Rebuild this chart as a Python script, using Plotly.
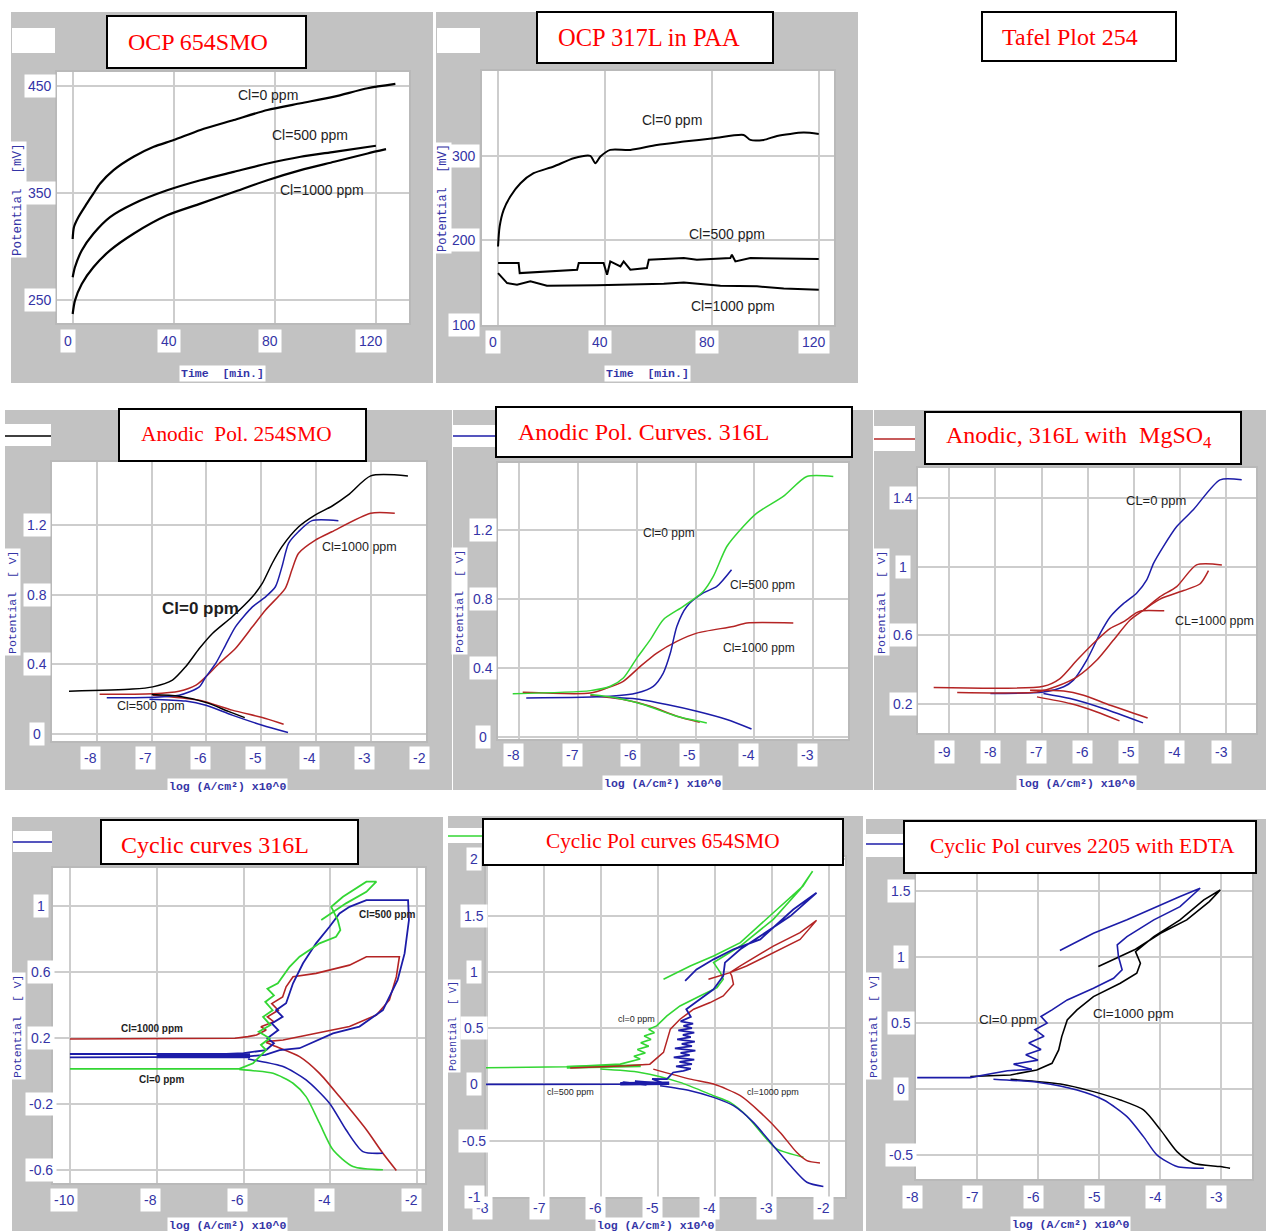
import plotly.graph_objects as go

W, H = 1266, 1231

# ======================= DATA =======================
# Panel 1 - OCP 654SMO (time [min], potential [mV])
p1_t_cl0 = [0, 0.5, 2.3, 5.6, 8.2, 10.9, 16.2, 24.1, 32.1, 40, 50.6, 63.8, 77.1, 90.3, 103.6, 116.8, 127.8]
p1_E_cl0 = [307, 318, 327.5, 340, 349.4, 358.8, 371.3, 383.8, 393.1, 399.4, 408.8, 418.1, 427.5, 433.8, 440, 447.8, 451.9]
p1_t_cl500 = [0, 0.9, 3.6, 8.2, 14.8, 24.1, 37.4, 50.6, 63.8, 77.1, 90.3, 103.6, 120.1]
p1_E_cl500 = [271.3, 280.6, 296.3, 311.9, 327.5, 340, 352.5, 361.9, 369.7, 377.5, 383.8, 388.4, 394.1]
p1_t_cl1000 = [0, 0.9, 3.6, 8.2, 14.8, 24.1, 37.4, 50.6, 63.8, 77.1, 90.3, 103.6, 116.8, 124.1]
p1_E_cl1000 = [236.9, 249.4, 265, 280.6, 296.3, 311.9, 329.1, 340, 350.9, 361.9, 371.3, 379.1, 386.9, 390.9]

# Panel 2 - OCP 317L in PAA
p2_t_cl0 = [0, 0.6, 2.1, 4.6, 8.4, 13.3, 20.8, 28.3, 34.5, 36.4, 38.3, 42, 49.5, 59.4, 69.5, 80.7, 91.9, 94.4, 99.4, 104.4, 114.3, 120]
p2_E_cl0 = [192.9, 216.5, 236.2, 252, 267.7, 279.5, 287.4, 297.2, 300, 291.3, 299.2, 307.1, 307.1, 313, 316.9, 320.9, 324.8, 318.9, 318.9, 323.6, 327.6, 326]
p2_t_cl500 = [0, 7.7, 8.1, 29.6, 30.2, 39.5, 40.8, 42, 45.8, 47, 49.5, 55.7, 56.4, 69.5, 74.4, 86.9, 87.5, 88.8, 94.4, 120]
p2_E_cl500 = [173.2, 173.2, 161.4, 165.4, 173.2, 173.2, 159.4, 175.2, 169.3, 175.2, 165.4, 167.3, 177.2, 179.1, 177.2, 179.1, 183.1, 175.2, 179.1, 178]
p2_t_cl1000 = [0, 3.4, 7.1, 12.1, 18.3, 37, 62, 69.5, 83.2, 96.9, 106.9, 120]
p2_E_cl1000 = [161.4, 149.6, 147.6, 151.6, 146.5, 146.9, 148.8, 150.4, 146.5, 145.7, 143.3, 141.7]

# Panel 3 - Anodic Pol. 254SMO (log i, E [V])
p3_x_cl0 = [-8.51, -7.35, -6.98, -6.62, -6.38, -6.13, -5.89, -5.53, -5.16, -4.98, -4.8, -4.62, -4.32, -4.01, -3.71, -3.41, -3.0, -2.32]
p3_y_cl0 = [0.244, 0.256, 0.269, 0.308, 0.385, 0.49, 0.577, 0.673, 0.788, 0.865, 0.98, 1.077, 1.19, 1.26, 1.31, 1.375, 1.485, 1.485]
p3_xc_cl0 = [-7.0, -6.5, -6.0, -5.6, -5.3]
p3_yc_cl0 = [0.225, 0.215, 0.178, 0.128, 0.092]
p3_x_cl500 = [-7.82, -6.5, -6.13, -6.01, -5.83, -5.65, -5.47, -5.16, -4.92, -4.74, -4.62, -4.5, -4.32, -4.07, -3.59]
p3_y_cl500 = [0.206, 0.221, 0.269, 0.327, 0.404, 0.51, 0.615, 0.73, 0.788, 0.846, 0.962, 1.096, 1.163, 1.227, 1.227]
p3_xc_cl500 = [-7.04, -6.38, -6.01, -5.53, -4.98, -4.51]
p3_yc_cl500 = [0.198, 0.187, 0.163, 0.106, 0.048, 0.006]
p3_x_cl1000 = [-7.95, -6.98, -6.5, -6.19, -6.01, -5.77, -5.47, -5.16, -4.92, -4.56, -4.44, -4.32, -4.01, -3.71, -3.0, -2.56]
p3_y_cl1000 = [0.227, 0.23, 0.244, 0.279, 0.327, 0.404, 0.49, 0.615, 0.712, 0.837, 0.942, 1.038, 1.115, 1.163, 1.27, 1.27]
p3_xc_cl1000 = [-6.98, -6.13, -5.53, -4.92, -4.59]
p3_yc_cl1000 = [0.221, 0.192, 0.135, 0.087, 0.054]

# Panel 4 - Anodic Pol. Curves 316L
p4_x_cl0 = [-8.11, -6.79, -6.45, -6.23, -6.0, -5.77, -5.55, -5.21, -4.87, -4.7, -4.47, -4.19, -3.96, -3.51, -3.11, -2.66]
p4_y_cl0 = [0.251, 0.269, 0.294, 0.342, 0.458, 0.565, 0.681, 0.758, 0.845, 0.932, 1.106, 1.222, 1.3, 1.397, 1.513, 1.513]
p4_xc_cl0 = [-6.79, -6.34, -5.89, -5.32, -4.81]
p4_yc_cl0 = [0.246, 0.226, 0.188, 0.12, 0.081]
p4_x_cl500 = [-7.88, -6.45, -6.0, -5.72, -5.55, -5.43, -5.32, -5.15, -4.87, -4.64, -4.39]
p4_y_cl500 = [0.226, 0.236, 0.255, 0.294, 0.371, 0.487, 0.642, 0.758, 0.836, 0.874, 0.971]
p4_xc_cl500 = [-6.45, -6.0, -5.49, -4.98, -4.47, -4.05]
p4_yc_cl500 = [0.23, 0.22, 0.188, 0.149, 0.101, 0.046]
p4_x_cl1000 = [-7.94, -6.79, -6.51, -6.23, -5.94, -5.66, -5.32, -4.98, -4.36, -4.13, -3.34]
p4_y_cl1000 = [0.259, 0.255, 0.284, 0.323, 0.41, 0.487, 0.555, 0.603, 0.642, 0.662, 0.662]
p4_xc_cl1000 = [-6.79, -6.23, -5.77, -5.32, -4.93]
p4_yc_cl1000 = [0.24, 0.217, 0.178, 0.12, 0.085]

# Panel 5 - Anodic, 316L with MgSO4
p5_x_cl0 = [-8.11, -6.96, -6.52, -6.31, -6.02, -5.73, -5.51, -5.22, -4.94, -4.72, -4.57, -4.36, -4.07, -3.71, -3.13, -2.66]
p5_y_cl0 = [0.259, 0.268, 0.298, 0.337, 0.454, 0.61, 0.707, 0.785, 0.844, 0.922, 1.02, 1.117, 1.234, 1.332, 1.507, 1.507]
p5_xc_cl0 = [-6.96, -6.38, -5.66, -4.8]
p5_yc_cl0 = [0.259, 0.229, 0.171, 0.087]
p5_x_cl1000a = [-9.34, -6.96, -6.6, -6.23, -5.8, -5.51, -5.22, -4.94, -4.83, -4.34]
p5_y_cl1000a = [0.294, 0.301, 0.346, 0.454, 0.571, 0.639, 0.678, 0.731, 0.742, 0.742]
p5_x_cl1000b = [-8.83, -7.1, -6.67, -6.23, -5.8, -5.44, -5.08, -4.79, -4.43, -4.07, -3.64, -3.09]
p5_y_cl1000b = [0.264, 0.268, 0.301, 0.356, 0.454, 0.571, 0.688, 0.746, 0.824, 0.883, 1.01, 1.01]
p5_x_cl1000c = [-4.79, -4.43, -3.92, -3.56, -3.38]
p5_y_cl1000c = [0.746, 0.81, 0.86, 0.9, 0.976]
p5_xc_cl1000a = [-7.25, -6.52, -6.09, -5.51, -4.7]
p5_yc_cl1000a = [0.278, 0.274, 0.249, 0.19, 0.116]
p5_xc_cl1000b = [-7.1, -6.38, -5.8, -5.31]
p5_yc_cl1000b = [0.239, 0.2, 0.151, 0.099]

# Panel 6 - Cyclic curves 316L
p6_x_cl1000 = [-10, -6.55, -6.2, -5.9, -5.7, -5.48, -5.6, -5.3, -5.45, -5.2, -5.35, -5.1, -5.02, -4.86, -4.33, -3.56, -3.17, -2.41,
               -2.48, -2.64, -2.94, -3.56, -4.33, -5.09, -5.48]
p6_y_cl1000 = [0.196, 0.196, 0.2, 0.21, 0.22, 0.25, 0.27, 0.3, 0.33, 0.37, 0.41, 0.45, 0.512, 0.573, 0.593, 0.643, 0.694, 0.694,
               0.573, 0.432, 0.341, 0.271, 0.23, 0.19, 0.18]
p6_xc_cl1000 = [-5.48, -5.25, -4.71, -4.25, -3.79, -3.17, -2.79, -2.48]
p6_yc_cl1000 = [0.175, 0.15, 0.089, -0.012, -0.153, -0.354, -0.496, -0.6]
p6_x_cl500 = [-10, -6.4, -6.0, -5.78, -5.48, -5.3, -5.45, -5.2, -5.35, -5.1, -5.25, -5.02, -4.86, -4.63, -4.33, -4.02, -3.79, -3.56,
              -3.17, -2.21, -2.19, -2.29, -2.45, -2.79, -3.33, -3.94, -4.71, -5.17, -5.5, -6.0, -10]
p6_y_cl500 = [0.105, 0.105, 0.11, 0.12, 0.129, 0.17, 0.2, 0.25, 0.29, 0.33, 0.37, 0.412, 0.533, 0.654, 0.775, 0.875, 0.956, 0.996,
              1.037, 1.037, 0.916, 0.714, 0.553, 0.371, 0.271, 0.23, 0.14, 0.129, 0.1, 0.088, 0.085]
p6_x_cl500_band = [-8.0, -5.85]
p6_y_cl500_band = [0.094, 0.094]
p6_xc_cl500 = [-5.9, -5.78, -5.09, -4.56, -4.02, -3.64, -3.25, -2.79]
p6_yc_cl500 = [0.075, 0.069, 0.029, -0.052, -0.193, -0.354, -0.486, -0.496]
p6_x_cl0 = [-10, -6.1, -5.78, -5.48, -5.6, -5.4, -5.65, -5.38, -5.55, -5.33, -5.5, -5.3, -5.45, -5.21, -4.94, -4.71, -4.25, -3.87,
            -3.77, -3.83, -3.98, -3.71, -3.17, -2.94, -3.17, -3.64, -4.21]
p6_y_cl0 = [0.015, 0.015, 0.049, 0.129, 0.16, 0.2, 0.24, 0.28, 0.33, 0.37, 0.42, 0.46, 0.5, 0.533, 0.633, 0.694, 0.775, 0.815,
            0.855, 0.916, 0.996, 1.057, 1.148, 1.148, 1.087, 1.017, 0.916]
p6_xc_cl0 = [-6.1, -5.78, -5.32, -4.86, -4.56, -4.25, -3.94, -3.48, -2.79]
p6_yc_cl0 = [0.012, 0.004, -0.012, -0.072, -0.153, -0.314, -0.475, -0.576, -0.596]

# Panel 7 - Cyclic Pol curves 654SMO
p7_x_cl0 = [-8.02, -6.6, -5.66, -5.31, -5.42, -5.22, -5.36, -5.16, -5.3, -5.12, -5.24, -5.06, -5.16, -5.02, -4.84, -4.61, -4.26, -3.96, -3.85,
            -3.9, -4.02, -3.55, -2.97, -2.5, -2.28, -2.45, -2.97, -3.55, -4.02, -4.43, -4.9]
p7_y_cl0 = [0.148, 0.157, 0.18, 0.225, 0.25, 0.28, 0.31, 0.34, 0.37, 0.4, 0.43, 0.46, 0.49, 0.52, 0.609, 0.697, 0.786, 0.86, 0.934,
            0.993, 1.082, 1.229, 1.466, 1.732, 1.894, 1.761, 1.525, 1.259, 1.141, 1.052, 0.934]
p7_x_cl0_band = [-6.6, -5.3]
p7_y_cl0_band = [0.152, 0.165]
p7_xc_cl0 = [-6.01, -5.31, -4.61, -4.02, -3.73, -3.44, -3.14, -2.91, -2.44]
p7_yc_cl0 = [0.136, 0.106, 0.018, -0.1, -0.16, -0.278, -0.455, -0.573, -0.647]
p7_x_cl1000 = [-6.54, -5.55, -5.14, -4.9, -4.78, -4.61, -4.37, -4.08, -3.85, -3.67, -3.7, -3.73, -3.55, -2.97, -2.5, -2.21,
               -2.5, -2.97, -3.44, -3.73, -4.11]
p7_y_cl1000 = [0.145, 0.165, 0.18, 0.284, 0.491, 0.579, 0.668, 0.727, 0.786, 0.889, 0.963, 0.993, 1.052, 1.229, 1.348, 1.457,
               1.288, 1.17, 1.052, 0.993, 0.934]
p7_xc_cl1000 = [-5.08, -4.43, -4.02, -3.55, -3.2, -2.85, -2.56, -2.38, -2.15]
p7_yc_cl1000 = [0.136, 0.047, 0.003, -0.1, -0.248, -0.426, -0.603, -0.677, -0.697]
p7_x_cl500 = [-8.02, -5.66, -5.6, -5.2, -5.4, -4.9, -5.1, -4.84, -4.73,
              -4.55, -4.42, -4.68, -4.4, -4.62, -4.36, -4.72, -4.44, -4.6, -4.34, -4.7, -4.4, -4.58, -4.35, -4.66,
              -4.42, -4.56, -4.36, -4.64, -4.4, -4.55, -4.38, -4.6, -4.42, -4.5,
              -4.26, -4.02, -3.85, -3.82, -3.55, -3.2, -2.67, -2.21,
              -2.62, -3.2, -3.67, -4.02, -4.32, -4.52]
p7_y_cl500 = [0.0, 0.003, 0.02, -0.005, 0.03, 0.01, 0.05, 0.047, 0.106,
              0.12, 0.14, 0.16, 0.18, 0.2, 0.22, 0.24, 0.26, 0.28, 0.3, 0.32, 0.34, 0.36, 0.38, 0.4,
              0.42, 0.44, 0.46, 0.48, 0.5, 0.52, 0.54, 0.56, 0.6, 0.668,
              0.757, 0.845, 0.963, 1.082, 1.2, 1.318, 1.495, 1.702,
              1.554, 1.288, 1.2, 1.111, 1.022, 0.919]
p7_x_cl500_band = [-5.66, -4.8]
p7_y_cl500_band = [0.005, 0.01]
p7_xc_cl500 = [-4.96, -4.43, -4.02, -3.67, -3.32, -2.97, -2.67, -2.38, -2.09]
p7_yc_cl500 = [-0.012, -0.056, -0.115, -0.189, -0.337, -0.544, -0.721, -0.869, -0.907]

# Panel 8 - Cyclic Pol curves 2205 with EDTA
p8_x_cl0 = [-7.98, -7.11, -6.73, -6.5, -6.1, -6.4, -6.0, -6.2, -5.95, -6.15, -5.9, -6.05, -5.85, -5.95, -5.77, -5.52, -5.09,
            -4.76, -4.62, -4.68, -4.7, -4.54, -4.1, -3.67, -3.34, -3.67, -4.54, -5.09, -5.64]
p8_y_cl0 = [0.088, 0.088, 0.121, 0.14, 0.15, 0.19, 0.22, 0.26, 0.3, 0.35, 0.4, 0.45, 0.5, 0.55, 0.6, 0.675, 0.763,
            0.839, 0.902, 1.003, 1.091, 1.154, 1.28, 1.38, 1.519, 1.456, 1.28, 1.179, 1.048]
p8_xc_cl0 = [-6.73, -5.96, -5.36, -4.92, -4.54, -4.27, -4.05, -3.72, -3.28]
p8_yc_cl0 = [0.076, 0.05, -0.005, -0.081, -0.207, -0.358, -0.496, -0.584, -0.597]
p8_x_cl1000 = [-7.11, -6.45, -6.02, -5.77, -5.66, -5.61, -5.52, -5.36, -5.09, -4.65, -4.38, -4.32, -4.4, -4.1, -3.67, -3.28,
               -3.01, -3.19, -3.56, -3.99, -4.4, -5.01]
p8_y_cl1000 = [0.096, 0.108, 0.146, 0.196, 0.297, 0.398, 0.524, 0.6, 0.7, 0.801, 0.877, 0.952, 1.04, 1.154, 1.28, 1.431,
               1.506, 1.418, 1.28, 1.179, 1.058, 0.927]
p8_xc_cl1000 = [-6.45, -5.63, -5.09, -4.65, -4.27, -3.99, -3.72, -3.45, -3.01, -2.85]
p8_yc_cl1000 = [0.076, 0.04, -0.018, -0.081, -0.156, -0.307, -0.471, -0.559, -0.584, -0.597]

# Tick values / labels
p1_xticks = [0, 40, 80, 120]
p1_yticks = [250, 350, 450]
p2_xticks = [0, 40, 80, 120]
p2_yticks = [100, 200, 300]
p3_xticks = [-8, -7, -6, -5, -4, -3, -2]
p3_yticks = [0, 0.4, 0.8, 1.2]
p4_xticks = [-8, -7, -6, -5, -4, -3]
p4_yticks = [0, 0.4, 0.8, 1.2]
p5_xticks = [-9, -8, -7, -6, -5, -4, -3]
p5_yticks = [0.2, 0.6, 1, 1.4]
p6_xticks = [-10, -8, -6, -4, -2]
p6_yticks = [-0.6, -0.2, 0.2, 0.6, 1]
p7_xticks = [-8, -7, -6, -5, -4, -3, -2]
p7_yticks = [-1, -0.5, 0, 0.5, 1, 1.5, 2]
p8_xticks = [-8, -7, -6, -5, -4, -3]
p8_yticks = [-0.5, 0, 0.5, 1, 1.5]

# ======================= STYLE / LAYOUT =======================
BLACK, BLUE, RED, GREEN = "#000000", "#1c1ca8", "#b42424", "#33d633"
GRAY_BG = "#c2c2c2"
TICK_COLOR = "#3434a6"
SERIF = "Liberation Serif, Times New Roman, serif"
SANS = "Liberation Sans, Arial, sans-serif"
MONO = "Liberation Mono, Courier New, monospace"
LOG_T = "log (A/cm²) x10^0"


def px(x):
    return x / W


def py(y):
    return 1 - y / H


def fmt(v):
    return "%g" % v


panels = [
    dict(gray=(11, 12, 433, 383), plot=(57, 72, 409, 323), xr=[-6.2, 133.2], yr=[228.5, 463],
         xt=p1_xticks, yt=p1_yticks, xlab_y=341, ylab_x=40, xshift=-5,
         xtitle="Time\u00a0\u00a0[min.]", xtitle_pos=(222, 373), ytitle="Potential\u00a0\u00a0[mV]", ytitle_pos=(18, 200), yts=12.5,
         title="OCP 654SMO", box=(107, 16, 306, 68), tc=(198, 42), ts=24,
         leg=(12, 28, 55, 53), leg_y=None, leg_c=None),
    dict(gray=(436, 12, 858, 383), plot=(482, 71, 834, 325), xr=[-6.0, 125.7], yr=[100, 400.4],
         xt=p2_xticks, yt=p2_yticks, xlab_y=342, ylab_x=464, xshift=-5,
         xtitle="Time\u00a0\u00a0[min.]", xtitle_pos=(647, 373), ytitle="Potential\u00a0\u00a0[mV]", ytitle_pos=(443, 198), yts=12,
         title="OCP 317L in PAA", box=(537, 12, 773, 63), tc=(649, 38), ts=24.5,
         leg=(437, 28, 480, 53), leg_y=None, leg_c=None),
    dict(gray=(5, 410, 452, 790), plot=(52, 462, 426, 741), xr=[-8.82, -1.99], yr=[-0.043, 1.565],
         xt=p3_xticks, yt=p3_yticks, xlab_y=758, ylab_x=37, xshift=-6,
         xtitle=LOG_T, xtitle_pos=(227, 786), ytitle="Potential\u00a0\u00a0[\u00a0V]", ytitle_pos=(12, 602), yts=11.5,
         title="Anodic\u00a0\u00a0Pol. 254SMO", box=(119, 409, 366, 461), tc=(236, 434), ts=21.3,
         leg=(5, 424, 51, 446), leg_y=436, leg_c=BLACK),
    dict(gray=(453, 410, 873, 790), plot=(498, 463, 848, 739), xr=[-8.36, -2.41], yr=[-0.012, 1.591],
         xt=p4_xticks, yt=p4_yticks, xlab_y=755, ylab_x=483, xshift=-6,
         xtitle=LOG_T, xtitle_pos=(662, 783), ytitle="Potential\u00a0\u00a0[\u00a0V]", ytitle_pos=(459, 601), yts=11.5,
         title="Anodic Pol. Curves. 316L", box=(496, 407, 852, 457), tc=(643, 432), ts=24,
         leg=(453, 425, 495, 447), leg_y=436, leg_c=BLUE),
    dict(gray=(874, 410, 1266, 790), plot=(918, 468, 1256, 733), xr=[-9.68, -2.35], yr=[0.028, 1.576],
         xt=p5_xticks, yt=p5_yticks, xlab_y=752, ylab_x=903, xshift=-5,
         xtitle=LOG_T, xtitle_pos=(1076, 783), ytitle="Potential\u00a0\u00a0[\u00a0V]", ytitle_pos=(881, 602), yts=11.5,
         title="Anodic, 316L with\u00a0\u00a0MgSO<sub>4</sub>", box=(925, 412, 1241, 464), tc=(1079, 437), ts=24,
         leg=(874, 426, 915, 451), leg_y=439, leg_c=RED),
    dict(gray=(12, 817, 443, 1231), plot=(53, 868, 425, 1183), xr=[-10.39, -1.82], yr=[-0.676, 1.231],
         xt=p6_xticks, yt=p6_yticks, xlab_y=1200, ylab_x=41, xshift=-6,
         xtitle=LOG_T, xtitle_pos=(227, 1225), ytitle="Potential\u00a0\u00a0[\u00a0V]", ytitle_pos=(17, 1026), yts=11.5,
         title="Cyclic curves 316L", box=(101, 820, 358, 864), tc=(215, 845), ts=24,
         leg=(13, 831, 52, 852), leg_y=842, leg_c=BLUE),
    dict(gray=(448, 816, 863, 1231), plot=(486, 857, 845, 1197), xr=[-8.02, -1.71], yr=[-1.0, 2.02],
         xt=p7_xticks, yt=p7_yticks, xlab_y=1208, ylab_x=474, xshift=-5,
         xtitle=LOG_T, xtitle_pos=(655, 1225), ytitle="Potential\u00a0\u00a0[\u00a0V]", ytitle_pos=(453, 1026), yts=10,
         title="Cyclic Pol curves 654SMO", box=(483, 819, 843, 865), tc=(663, 841), ts=21.3,
         leg=(448, 828, 482, 843), leg_y=836, leg_c=GREEN),
    dict(gray=(866, 819, 1266, 1231), plot=(916, 873, 1252, 1179), xr=[-8.0, -2.49], yr=[-0.678, 1.634],
         xt=p8_xticks, yt=p8_yticks, xlab_y=1197, ylab_x=901, xshift=-4,
         xtitle=LOG_T, xtitle_pos=(1070, 1224), ytitle="Potential\u00a0\u00a0[\u00a0V]", ytitle_pos=(873, 1026), yts=11.5,
         title="Cyclic Pol curves 2205 with EDTA", box=(904, 821, 1256, 873), tc=(1082, 846), ts=21.5,
         leg=(866, 834, 904, 857), leg_y=844, leg_c=BLUE),
]

S, LN = "spline", "linear"
# (panel, x, y, color, width, line shape)
series = [
    (1, p1_t_cl0, p1_E_cl0, BLACK, 2.2, S), (1, p1_t_cl500, p1_E_cl500, BLACK, 2.2, S),
    (1, p1_t_cl1000, p1_E_cl1000, BLACK, 2.2, S),
    (2, p2_t_cl0, p2_E_cl0, BLACK, 2, S), (2, p2_t_cl500, p2_E_cl500, BLACK, 2, LN),
    (2, p2_t_cl1000, p2_E_cl1000, BLACK, 2, LN),
    (3, p3_x_cl1000, p3_y_cl1000, RED, 1.5, S), (3, p3_xc_cl1000, p3_yc_cl1000, RED, 1.5, S),
    (3, p3_x_cl500, p3_y_cl500, BLUE, 1.5, S), (3, p3_xc_cl500, p3_yc_cl500, BLUE, 1.5, S),
    (3, p3_x_cl0, p3_y_cl0, BLACK, 1.5, S), (3, p3_xc_cl0, p3_yc_cl0, BLACK, 1.5, S),
    (4, p4_x_cl1000, p4_y_cl1000, RED, 1.5, S), (4, p4_xc_cl1000, p4_yc_cl1000, RED, 1.5, S),
    (4, p4_x_cl500, p4_y_cl500, BLUE, 1.5, S), (4, p4_xc_cl500, p4_yc_cl500, BLUE, 1.5, S),
    (4, p4_x_cl0, p4_y_cl0, GREEN, 1.5, S), (4, p4_xc_cl0, p4_yc_cl0, GREEN, 1.5, S),
    (5, p5_x_cl0, p5_y_cl0, BLUE, 1.5, S), (5, p5_xc_cl0, p5_yc_cl0, BLUE, 1.5, S),
    (5, p5_x_cl1000a, p5_y_cl1000a, RED, 1.5, S), (5, p5_x_cl1000b, p5_y_cl1000b, RED, 1.5, S),
    (5, p5_x_cl1000c, p5_y_cl1000c, RED, 1.5, S),
    (5, p5_xc_cl1000a, p5_yc_cl1000a, RED, 1.5, S), (5, p5_xc_cl1000b, p5_yc_cl1000b, RED, 1.5, S),
    (6, p6_x_cl1000, p6_y_cl1000, RED, 1.6, LN), (6, p6_xc_cl1000, p6_yc_cl1000, RED, 1.6, S),
    (6, p6_x_cl500, p6_y_cl500, BLUE, 1.8, LN), (6, p6_x_cl500_band, p6_y_cl500_band, BLUE, 5, LN),
    (6, p6_xc_cl500, p6_yc_cl500, BLUE, 1.6, S),
    (6, p6_x_cl0, p6_y_cl0, GREEN, 1.8, LN), (6, p6_xc_cl0, p6_yc_cl0, GREEN, 1.6, S),
    (7, p7_x_cl0, p7_y_cl0, GREEN, 1.6, LN), (7, p7_x_cl0_band, p7_y_cl0_band, GREEN, 3, LN),
    (7, p7_xc_cl0, p7_yc_cl0, GREEN, 1.5, S),
    (7, p7_x_cl1000, p7_y_cl1000, RED, 1.5, LN), (7, p7_xc_cl1000, p7_yc_cl1000, RED, 1.5, S),
    (7, p7_x_cl500, p7_y_cl500, BLUE, 1.8, LN), (7, p7_x_cl500_band, p7_y_cl500_band, BLUE, 3.5, LN),
    (7, p7_xc_cl500, p7_yc_cl500, BLUE, 1.5, S),
    (8, p8_x_cl1000, p8_y_cl1000, BLACK, 1.6, LN), (8, p8_xc_cl1000, p8_yc_cl1000, BLACK, 1.5, S),
    (8, p8_x_cl0, p8_y_cl0, BLUE, 1.6, LN), (8, p8_xc_cl0, p8_yc_cl0, BLUE, 1.5, S),
]

# (panel, text, x, y, size, bold)
labels = [
    (1, "Cl=0 ppm", 77.5, 441.6, 14, False), (1, "Cl=500 ppm", 94.1, 404.2, 14, False),
    (1, "Cl=1000 ppm", 98.6, 352.8, 14, False),
    (2, "Cl=0 ppm", 65.2, 342.5, 14, False), (2, "Cl=500 ppm", 85.5, 207.6, 14, False),
    (2, "Cl=1000 ppm", 88.0, 122.0, 14, False),
    (3, "Cl=0 ppm", -6.1, 0.72, 17, True), (3, "Cl=1000 ppm", -3.21, 1.077, 12.5, False),
    (3, "Cl=500 ppm", -7.01, 0.158, 12.5, False),
    (4, "Cl=0 ppm", -5.46, 1.184, 12, False), (4, "Cl=500 ppm", -3.87, 0.884, 12, False),
    (4, "Cl=1000 ppm", -3.92, 0.516, 12, False),
    (5, "CL=0 ppm", -4.52, 1.384, 13, False), (5, "CL=1000 ppm", -3.24, 0.684, 12.5, False),
    (6, "Cl=1000 ppm", -8.1, 0.26, 10, True), (6, "Cl=0 ppm", -7.9, -0.048, 10, True),
    (6, "Cl=500 ppm", -2.69, 0.95, 10, True),
    (7, "cl=0 ppm", -5.38, 0.58, 9, False), (7, "cl=500 ppm", -6.54, -0.065, 9, False),
    (7, "cl=1000 ppm", -2.97, -0.065, 9, False),
    (8, "Cl=0 ppm", -6.49, 0.524, 13.5, False), (8, "Cl=1000 ppm", -4.44, 0.574, 13.5, False),
]

fig = go.Figure()
shapes, annotations = [], []
layout_axes = {}

for i, p in enumerate(panels, start=1):
    xn = "xaxis" if i == 1 else "xaxis%d" % i
    yn = "yaxis" if i == 1 else "yaxis%d" % i
    xr_id = "x" if i == 1 else "x%d" % i
    yr_id = "y" if i == 1 else "y%d" % i
    L, T, R, B = p["plot"]
    common = dict(showgrid=True, gridcolor="#cdcdcd", gridwidth=1.6, zeroline=False,
                  showticklabels=False, ticks="", showline=True, mirror=True,
                  linecolor="#b9b9b9", linewidth=2, fixedrange=True)
    layout_axes[xn] = dict(domain=[px(L), px(R)], range=p["xr"], anchor=yr_id,
                           tickmode="array", tickvals=p["xt"], **common)
    layout_axes[yn] = dict(domain=[py(B), py(T)], range=p["yr"], anchor=xr_id,
                           tickmode="array", tickvals=p["yt"], **common)

    gx0, gy0, gx1, gy1 = p["gray"]
    shapes.append(dict(type="rect", xref="paper", yref="paper", x0=px(gx0), x1=px(gx1), y0=py(gy1), y1=py(gy0),
                       fillcolor=GRAY_BG, line=dict(width=0), layer="below"))
    shapes.append(dict(type="rect", xref="paper", yref="paper", x0=px(L), x1=px(R), y0=py(B), y1=py(T),
                       fillcolor="white", line=dict(width=0), layer="below"))

    # legend remnant box
    lx0, ly0, lx1, ly1 = p["leg"]
    shapes.append(dict(type="rect", xref="paper", yref="paper", x0=px(lx0), x1=px(lx1), y0=py(ly1), y1=py(ly0),
                       fillcolor="white", line=dict(width=0), layer="above"))
    if p["leg_c"]:
        shapes.append(dict(type="line", xref="paper", yref="paper", x0=px(lx0), x1=px(lx1),
                           y0=py(p["leg_y"]), y1=py(p["leg_y"]), line=dict(color=p["leg_c"], width=1.6), layer="above"))

    # title box
    bx0, by0, bx1, by1 = p["box"]
    shapes.append(dict(type="rect", xref="paper", yref="paper", x0=px(bx0), x1=px(bx1), y0=py(by1), y1=py(by0),
                       fillcolor="white", line=dict(color="black", width=2), layer="above"))
    annotations.append(dict(text=p["title"], x=px(p["tc"][0]), y=py(p["tc"][1]), xref="paper", yref="paper",
                            showarrow=False, xanchor="center", yanchor="middle",
                            font=dict(family=SERIF, size=p["ts"], color="#ff0000")))

    # tick labels (placed through the axis scale)
    for v in p["xt"]:
        annotations.append(dict(text=fmt(v), x=v, xref=xr_id, y=py(p["xlab_y"]), yref="paper", xshift=p["xshift"],
                                showarrow=False, xanchor="center", yanchor="middle", bgcolor="white", borderpad=3,
                                font=dict(family=SANS, size=14, color=TICK_COLOR)))
    for v in p["yt"]:
        annotations.append(dict(text=fmt(v), x=px(p["ylab_x"]), xref="paper", y=v, yref=yr_id,
                                showarrow=False, xanchor="center", yanchor="middle", bgcolor="white", borderpad=3,
                                font=dict(family=SANS, size=14, color=TICK_COLOR)))
    # axis titles
    annotations.append(dict(text="<b>%s</b>" % p["xtitle"], x=px(p["xtitle_pos"][0]), y=py(p["xtitle_pos"][1]),
                            xref="paper", yref="paper", showarrow=False, xanchor="center", yanchor="middle",
                            bgcolor="white", borderpad=1, font=dict(family=MONO, size=11.5, color=TICK_COLOR)))
    annotations.append(dict(text=p["ytitle"], x=px(p["ytitle_pos"][0]), y=py(p["ytitle_pos"][1]),
                            xref="paper", yref="paper", showarrow=False, xanchor="center", yanchor="middle",
                            textangle=-90, bgcolor="white", borderpad=1,
                            font=dict(family=MONO, size=p["yts"], color=TICK_COLOR)))

# Tafel Plot 254 (box only)
shapes.append(dict(type="rect", xref="paper", yref="paper", x0=px(982), x1=px(1176), y0=py(61), y1=py(12),
                   fillcolor="white", line=dict(color="black", width=2), layer="above"))
annotations.append(dict(text="Tafel Plot 254", x=px(1070), y=py(37), xref="paper", yref="paper", showarrow=False,
                        xanchor="center", yanchor="middle", font=dict(family=SERIF, size=24, color="#ff0000")))

for (pi, xs, ys, col, w, shp) in series:
    xa = "x" if pi == 1 else "x%d" % pi
    ya = "y" if pi == 1 else "y%d" % pi
    line = dict(color=col, width=w, shape=shp)
    if shp == S:
        line["smoothing"] = 0.7
    fig.add_trace(go.Scatter(x=xs, y=ys, mode="lines", line=line,
                             xaxis=xa, yaxis=ya, showlegend=False, hoverinfo="skip"))

for (pi, txt, x, y, s, bold) in labels:
    xa = "x" if pi == 1 else "x%d" % pi
    ya = "y" if pi == 1 else "y%d" % pi
    annotations.append(dict(text=("<b>%s</b>" % txt) if bold else txt, x=x, y=y, xref=xa, yref=ya,
                            showarrow=False, xanchor="center", yanchor="middle",
                            font=dict(family=SANS, size=s, color="#1e1e1e")))

fig.update_layout(width=W, height=H, margin=dict(l=0, r=0, t=0, b=0),
                  paper_bgcolor="white", plot_bgcolor="rgba(0,0,0,0)",
                  shapes=shapes, annotations=annotations, showlegend=False, **layout_axes)

fig.write_html("out.html", config={"displayModeBar": False},
               post_script="document.body.style.margin='0';document.body.style.overflow='hidden';")
